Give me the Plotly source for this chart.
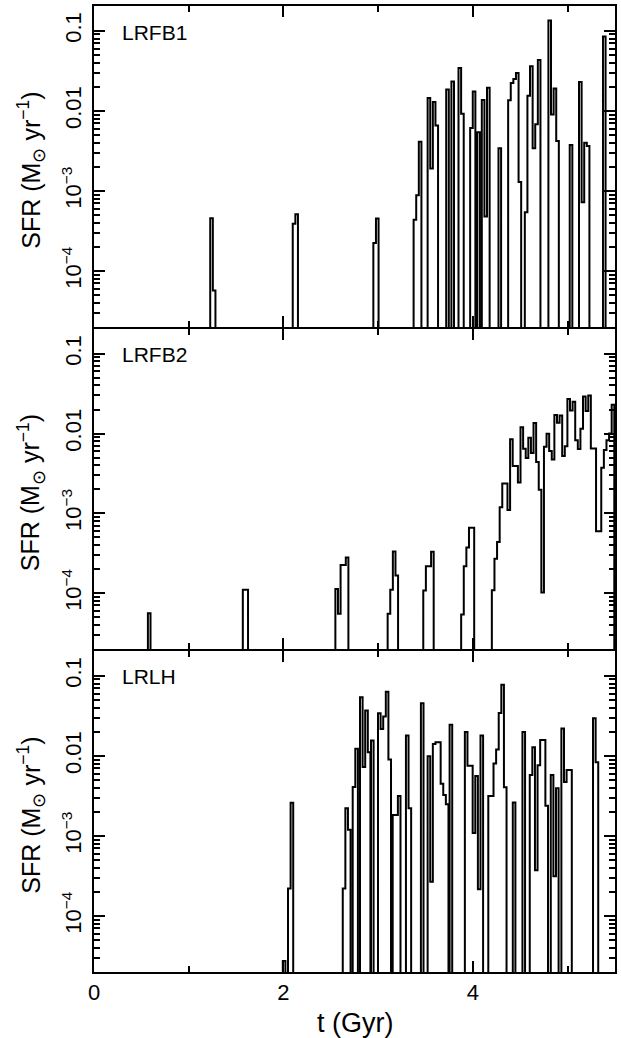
import plotly.graph_objects as go

# ---------------- data ----------------
BIN_WIDTH = 0.0275  # Gyr, width of one histogram bin

PANEL_NAMES = ["LRFB1", "LRFB2", "LRLH"]

# Each panel: start times (Gyr) of runs of consecutive bins, and SFR values (Msun/yr) of those bins.
LRFB1_START = [1.227, 2.098, 2.949, 3.374, 3.522, 3.718, 3.848, 3.971, 4.045, 4.094,
               4.270, 4.372, 4.548, 4.797, 5.022, 5.120, 5.373]
LRFB1_SFR = [
    [4.57e-4, 5.7e-5],
    [3.9e-4, 5.1e-4],
    [2.23e-4, 4.53e-4],
    [4.36e-4, 8.83e-4, 4.11e-3],
    [0.0145, 1.90e-3, 0.0129, 6.56e-3],
    [0.0185, 0, 0.0232],
    [0.0343, 9.2e-3],
    [6.1e-3, 0.0174],
    [5.4e-3],
    [0.0137, 4.8e-4, 0.0195],
    [3.4e-3],
    [0.0136, 0.0223, 0.025, 0.0297, 1.29e-3],
    [5.4e-4, 0.0155, 0.036, 3.4e-3, 6.8e-3, 0.0431],
    [0.1345, 9.0e-3, 0.019, 4.2e-3],
    [3.74e-3],
    [0.023, 7.2e-4, 4.0e-3, 3.63e-3],
    [0.085],
]

LRFB2_START = [0.569, 1.571, 2.548, 3.100, 3.476, 3.876, 4.200]
LRFB2_SFR = [
    [5.6e-5],
    [1.1e-4, 1.1e-4],
    [1.13e-4, 5.5e-5, 2.25e-4, 2.25e-4, 2.8e-4],
    [5.5e-5, 1.1e-4, 3.33e-4, 1.66e-4],
    [1.08e-4, 2.17e-4, 2.17e-4, 3.3e-4],
    [5.4e-5, 2.17e-4, 3.74e-4, 6.6e-4, 6.6e-4],
    [1.09e-4, 2.70e-4, 4.36e-4, 1.19e-3, 2.36e-3, 2.36e-3, 1.10e-3, 8.49e-3, 3.92e-3, 3.92e-3,
     2.43e-3, 0.0120, 6.44e-3, 4.93e-3, 8.83e-3, 5.69e-3, 0.0136, 4.4e-3, 1.97e-3, 1.02e-4,
     6.82e-3, 9.91e-3, 6.03e-3, 4.74e-3, 0.0171, 0.0137, 0.0168, 5.22e-3, 6.95e-3, 0.0270,
     0.0195, 0.0250, 8.26e-3, 6.38e-3, 0.0115, 0.0292, 0.0191, 0.0300, 6.50e-3, 6.50e-3,
     5.97e-4, 5.97e-4, 3.74e-3, 6.21e-3, 8.26e-3, 0.0100, 0.0230],
]

LRLH_START = [1.993, 2.626, 2.731, 2.808, 2.924, 2.998, 3.153, 3.293, 3.451, 3.522,
              3.754, 3.915, 4.421, 4.523, 4.600, 4.822, 4.934, 5.268]
LRLH_SFR = [
    [2.74e-5, 0, 2.2e-4, 2.6e-3],
    [2.2e-4, 2.22e-3, 1.19e-3],
    [4.09e-3, 0.0123],
    [0.0538, 7.24e-3, 0.0368, 0.0111],
    [0.0156],
    [0.0341, 0.0216, 0.031, 0.0634, 9.0e-3],
    [1.82e-3, 1.82e-3, 3.16e-3],
    [0.018, 2.22e-3],
    [0.0454],
    [9.9e-3, 2.67e-4, 0.0141, 0.0148, 0.0148, 4.5e-3, 3.25e-3, 2.49e-3],
    [0.0244],
    [0.0199, 7.5e-3, 7.5e-3, 1.09e-3, 5.6e-3, 2.16e-4, 0.018, 0, 0, 3.16e-3, 3.16e-3,
     8.0e-3, 0.012, 0.0344, 0.0773, 4.05e-3],
    [2.61e-3],
    [0.0199],
    [5.75e-3, 0.0128, 3.72e-4, 7.66e-3, 0.0158, 0.0158, 2.38e-3],
    [5.75e-3, 3.13e-4, 3.94e-3],
    [0.022, 4.72e-3, 6.64e-3, 6.64e-3],
    [0.0296, 8.3e-3],
]

X_TICKS = [0, 2, 4]
X_MINOR = [1, 3, 5]
Y_TICKS = [1e-4, 1e-3, 1e-2, 1e-1]
Y_TICKTEXT = ["10<sup>\u22124</sup>", "10<sup>\u22123</sup>", "0.01", "0.1"]

# ---------------- build figure ----------------
FLOOR = 1e-7  # empty bins drop below the axis


def step_path(starts, runs):
    xs, ys = [], []
    for t0, vals in zip(starts, runs):
        xs.append(t0)
        ys.append(FLOOR)
        for k, v in enumerate(vals):
            xs.append(t0 + k * BIN_WIDTH)
            ys.append(v if v > 0 else FLOOR)
        xs.append(t0 + len(vals) * BIN_WIDTH)
        ys.append(FLOOR)
    return xs, ys


FONT = "Liberation Sans, Arial, sans-serif"
fig = go.Figure()

panels = [(LRFB1_START, LRFB1_SFR), (LRFB2_START, LRFB2_SFR), (LRLH_START, LRLH_SFR)]
PLOT_H = 1038 - 4 - 66
g = 1.0 / PLOT_H  # half of the 2px gap so shared borders coincide
domains = [[2 / 3 + g, 1.0], [1 / 3 + g, 2 / 3 - g], [0.0, 1 / 3 - g]]

minor_y = [m * 10.0 ** d for d in range(-5, 0) for m in range(2, 10)]

for i, (starts, runs) in enumerate(panels):
    suffix = "" if i == 0 else str(i + 1)
    xs, ys = step_path(starts, runs)
    fig.add_trace(go.Scatter(x=xs, y=ys, mode="lines", line=dict(color="black", width=2, shape="hv"),
                             xaxis="x" + suffix, yaxis="y" + suffix, showlegend=False, hoverinfo="skip"))
    xa = dict(range=[0, 5.5], tickmode="array", tickvals=X_TICKS, ticktext=[str(v) for v in X_TICKS],
              ticks="inside", ticklen=11, tickwidth=1.5, tickcolor="black",
              minor=dict(tickmode="array", tickvals=X_MINOR, ticks="inside", ticklen=6, tickwidth=1.5,
                         tickcolor="black", showgrid=False),
              showline=True, linewidth=2, linecolor="black", mirror="allticks",
              showgrid=False, zeroline=False, anchor="y" + suffix,
              showticklabels=(i == 2), tickfont=dict(family=FONT, size=22, color="black"))
    if i != 2:
        xa["matches"] = "x3"
    ya = dict(type="log", range=[-4.7, -0.69], domain=domains[i], tickmode="array", tickvals=Y_TICKS,
              ticktext=Y_TICKTEXT, tickangle=-90, ticks="inside", ticklen=11, tickwidth=1.5, tickcolor="black",
              minor=dict(tickmode="array", tickvals=minor_y, ticks="inside", ticklen=6, tickwidth=1.5,
                         tickcolor="black", showgrid=False),
              showline=True, linewidth=2, linecolor="black", mirror="allticks",
              showgrid=False, zeroline=False, anchor="x" + suffix, ticklabelstandoff=2,
              tickfont=dict(family=FONT, size=22, color="black"))
    fig.update_layout(**{"xaxis" + suffix: xa, "yaxis" + suffix: ya})
    # panel label
    fig.add_annotation(text=PANEL_NAMES[i], xref="x" + suffix + " domain", yref="y" + suffix + " domain",
                       x=0.05, y=0.919, xanchor="left", yanchor="middle", showarrow=False,
                       font=dict(family=FONT, size=21, color="black"))
    # y title
    fig.add_annotation(text="SFR (M<sub>\u2299</sub> yr<sup>\u22121</sup>)", xref="paper",
                       yref="y" + suffix + " domain", x=-0.121, y=0.49, xanchor="center", yanchor="middle",
                       textangle=-90, showarrow=False, font=dict(family=FONT, size=25, color="black"))

fig.add_annotation(text="t (Gyr)", xref="paper", yref="paper", x=0.5, y=-0.0527, xanchor="center",
                   yanchor="middle", showarrow=False, font=dict(family=FONT, size=27, color="black"))

fig.update_layout(width=621, height=1038, margin=dict(l=94, r=6, t=4, b=66),
                  paper_bgcolor="white", plot_bgcolor="white", showlegend=False)

fig.write_html("out.html", config={"displayModeBar": False})
